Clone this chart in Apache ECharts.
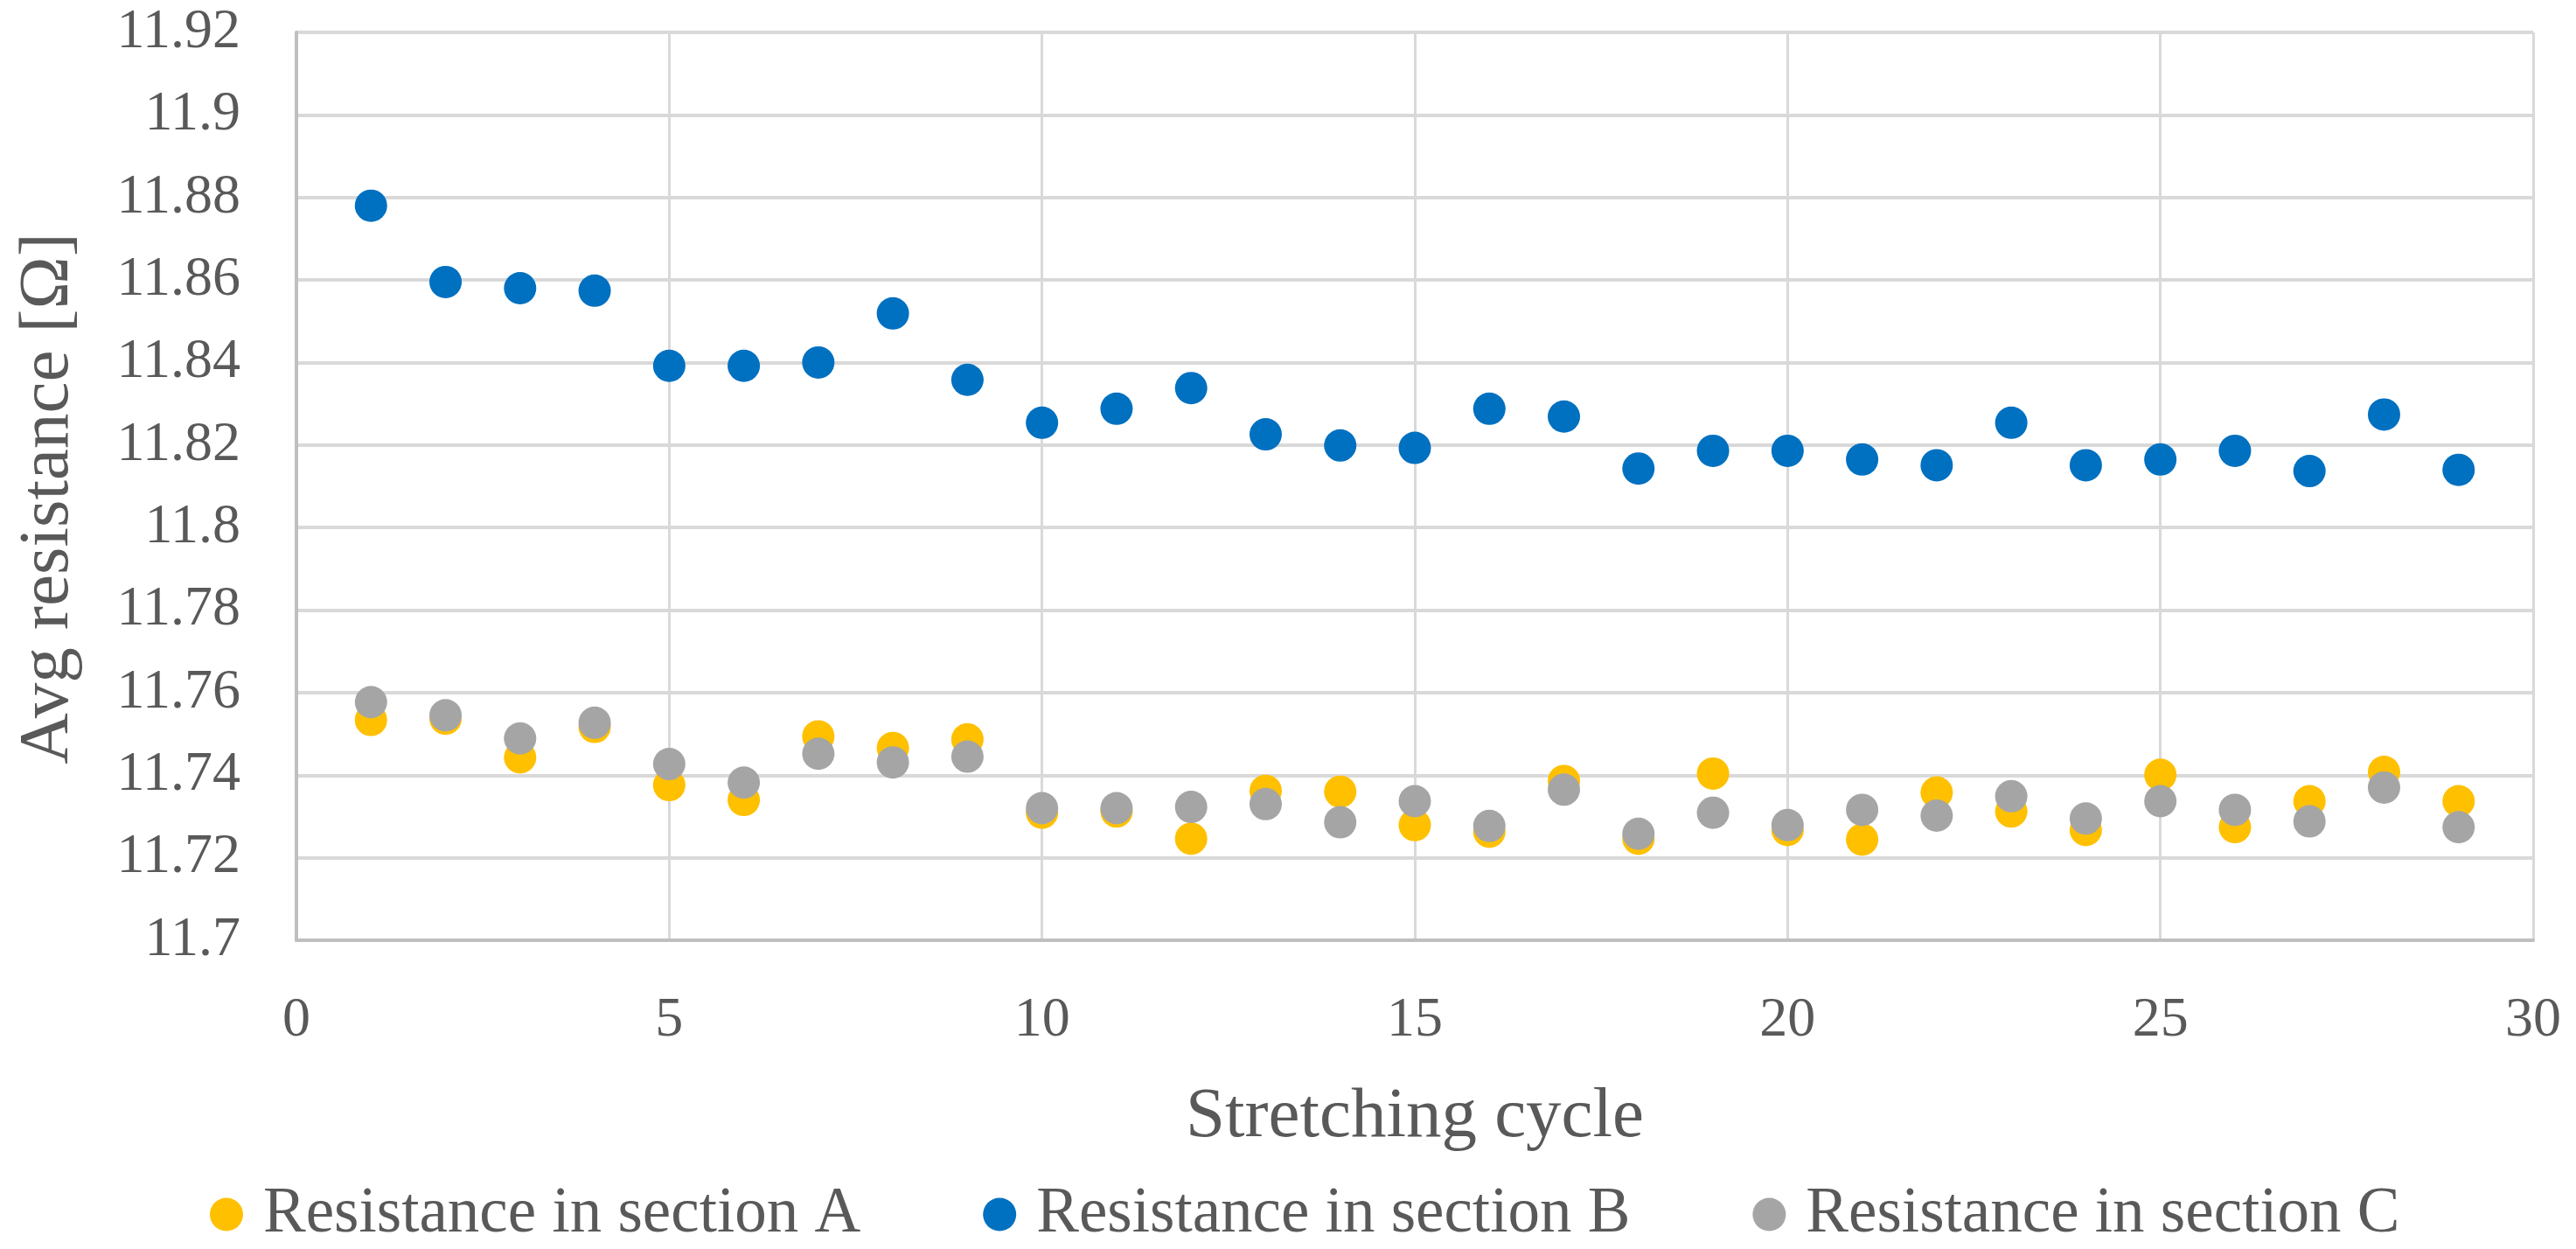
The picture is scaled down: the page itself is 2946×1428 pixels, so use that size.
<!DOCTYPE html>
<html>
<head>
<meta charset="utf-8">
<script src="https://cdn.jsdelivr.net/npm/echarts@6/dist/echarts.min.js"></script>
<style>
  html, body { margin: 0; padding: 0; background: #ffffff; }
  #chart { width: 2946px; height: 1428px; }
</style>
</head>
<body>
<div id="chart"></div>
<script>
// ---- Data ----
const cycles = [1,2,3,4,5,6,7,8,9,10,11,12,13,14,15,16,17,18,19,20,21,22,23,24,25,26,27,28,29];
const sectionA = [11.7534,11.7537,11.7443,11.7517,11.7376,11.7340,11.7494,11.7466,11.7487,11.7309,11.7312,
                  11.7246,11.7362,11.7360,11.7279,11.7263,11.7386,11.7246,11.7404,11.7267,11.7244,11.7358,
                  11.7312,11.7267,11.7401,11.7274,11.7337,11.7408,11.7337];
const sectionB = [11.8780,11.8595,11.8580,11.8574,11.8392,11.8392,11.8400,11.8519,11.8358,11.8254,11.8288,
                  11.8338,11.8226,11.8199,11.8193,11.8288,11.8269,11.8143,11.8186,11.8186,11.8165,11.8151,
                  11.8254,11.8151,11.8165,11.8186,11.8137,11.8274,11.8140];
const sectionC = [11.7577,11.7545,11.7489,11.7527,11.7427,11.7382,11.7452,11.7431,11.7445,11.7320,11.7320,
                  11.7323,11.7330,11.7286,11.7337,11.7277,11.7365,11.7258,11.7309,11.7279,11.7316,11.7302,
                  11.7349,11.7295,11.7337,11.7316,11.7288,11.7370,11.7274];
const seriesNames = ['Resistance in section A', 'Resistance in section B', 'Resistance in section C'];
const xMin = 0, xMax = 30, xInterval = 5;
const yMin = 11.7, yMax = 11.92, yInterval = 0.02;
const xTitle = 'Stretching cycle';
const yTitle = 'Avg resistance [Ω]';

// ---- Styles ----
const FONT = '"Liberation Serif", "DejaVu Serif", serif';
const TXT = '#595959';
const colors = ['#FFC000', '#0070C0', '#A5A5A5'];

function pairs(ys) { return cycles.map((c, i) => [c, ys[i]]); }

const chart = echarts.init(document.getElementById('chart'), null, { renderer: 'canvas' });
chart.setOption({
  animation: false,
  backgroundColor: '#ffffff',
  textStyle: { fontFamily: FONT, color: TXT },
  grid: { left: 339, right: 49, top: 37, bottom: 353, containLabel: false },
  xAxis: {
    type: 'value', min: xMin, max: xMax, interval: xInterval,
    name: xTitle, nameLocation: 'middle', nameGap: 162,
    nameTextStyle: { fontFamily: FONT, fontSize: 81, color: TXT },
    axisLine: { show: true, lineStyle: { color: '#BFBFBF', width: 4 } },
    axisTick: { show: false },
    axisLabel: { fontFamily: FONT, fontSize: 64, color: TXT, margin: 60 },
    splitLine: { show: true, lineStyle: { color: '#D9D9D9', width: 3 } }
  },
  yAxis: {
    type: 'value', min: yMin, max: yMax, interval: yInterval,
    name: yTitle, nameLocation: 'middle', nameGap: 243,
    nameTextStyle: { fontFamily: FONT, fontSize: 81, color: TXT, padding: [0, 28, 0, 0] },
    axisLine: { show: true, lineStyle: { color: '#BFBFBF', width: 4 } },
    axisTick: { show: false },
    axisLabel: { fontFamily: FONT, fontSize: 64, color: TXT, margin: 64 },
    splitLine: { show: true, lineStyle: { color: '#D9D9D9', width: 4 } }
  },
  legend: {
    top: 1352, left: 240, padding: 0,
    icon: 'circle', itemWidth: 38, itemHeight: 38, itemGap: 140,
    textStyle: { fontFamily: FONT, fontSize: 73, color: TXT, padding: [0, 0, 0, 18] },
    data: seriesNames
  },
  series: [
    { name: seriesNames[0], type: 'scatter', data: pairs(sectionA), symbol: 'circle', symbolSize: 37,
      itemStyle: { color: colors[0], opacity: 1 } },
    { name: seriesNames[1], type: 'scatter', data: pairs(sectionB), symbol: 'circle', symbolSize: 37,
      itemStyle: { color: colors[1], opacity: 1 } },
    { name: seriesNames[2], type: 'scatter', data: pairs(sectionC), symbol: 'circle', symbolSize: 37,
      itemStyle: { color: colors[2], opacity: 1 } }
  ]
});
</script>
</body>
</html>
